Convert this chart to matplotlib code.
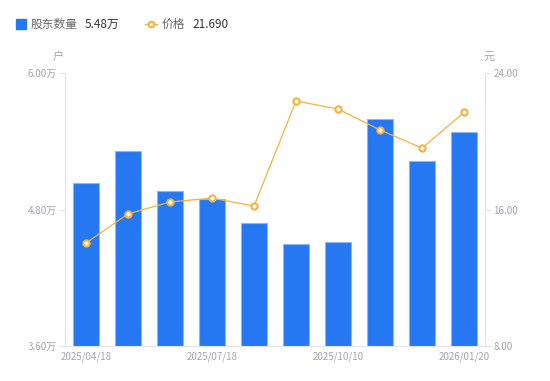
import matplotlib
matplotlib.use('Agg')
import matplotlib.pyplot as plt
from matplotlib.lines import Line2D
import numpy as np

plt.rcParams['font.family'] = ['Noto Sans CJK SC', 'DejaVu Sans']

dates = ['2025/04/18', '', '', '2025/07/18', '', '', '2025/10/10', '', '', '2026/01/20']
holders = [5.03, 5.31, 4.96, 4.89, 4.68, 4.50, 4.51, 5.60, 5.23, 5.48]   # 万户
price = [14.04, 15.74, 16.44, 16.67, 16.20, 22.36, 21.89, 20.66, 19.60, 21.69]

left_ticks = [3.6, 4.8, 6.0]
right_ticks = [8.0, 16.0, 24.0]

blue = '#2677F2'
orange = '#F7B23B'
grid_c = '#E3E3E8'
tick_c = '#A3A3B3'

fig = plt.figure(figsize=(5.5, 3.81), dpi=100)
ax = fig.add_axes([65/550, 35/381, 420/550, 273/381])
ax2 = ax.twinx()

x = np.arange(len(holders))
ax.bar(x, holders, width=0.6, color=blue, edgecolor='#8DB6F7', linewidth=0.8, zorder=2)
ax.set_xlim(-0.5, 9.5)
ax.set_ylim(3.6, 6.0)
ax.set_yticks(left_ticks)
ax.set_yticklabels(['%.2f万' % v for v in left_ticks])
ax.set_xticks([i for i, d in enumerate(dates) if d])
ax.set_xticklabels([d for d in dates if d])

ax2.plot(x, price, color=orange, linewidth=0.9, marker='o', markersize=4.5,
         markerfacecolor='white', markeredgecolor=orange, markeredgewidth=1.5, zorder=3)
ax2.set_ylim(8, 24)
ax2.set_yticks(right_ticks)
ax2.set_yticklabels(['%.2f' % v for v in right_ticks])

for a in (ax, ax2):
    for s in a.spines.values():
        s.set_visible(False)
    a.tick_params(colors=grid_c, labelcolor=tick_c, labelsize=7, length=4, width=0.8)
ax.spines['left'].set_visible(True)
ax.spines['left'].set_color(grid_c)
ax.spines['bottom'].set_visible(True)
ax.spines['bottom'].set_color(grid_c)
ax2.spines['right'].set_visible(True)
ax2.spines['right'].set_color(grid_c)
ax.tick_params(axis='x', length=0, pad=4)
ax.tick_params(axis='y', pad=2)
ax2.tick_params(axis='y', pad=2)

fig.text(58/550, 1 - 57/381, '户', fontsize=8, color=tick_c, ha='center', va='center')
fig.text(489/550, 1 - 57/381, '元', fontsize=8, color=tick_c, ha='center', va='center')

# legend
ly = 1 - 24/381
fig.add_artist(Line2D([21/550], [ly], marker='s', markersize=6.5, color=blue, transform=fig.transFigure))
fig.text(31/550, ly, '股东数量', fontsize=8.5, color='#666666', va='center')
fig.text(85/550, ly, '%.2f万' % holders[-1], fontsize=8.5, color='#333333', va='center')
fig.add_artist(Line2D([145/550, 157/550], [ly, ly], color=orange, linewidth=1, transform=fig.transFigure))
fig.add_artist(Line2D([151/550], [ly], marker='o', markersize=4, markerfacecolor='white',
                      markeredgecolor=orange, markeredgewidth=1.5, transform=fig.transFigure))
fig.text(162/550, ly, '价格', fontsize=8.5, color='#666666', va='center')
fig.text(192/550, ly, '%.3f' % price[-1], fontsize=8.5, color='#333333', va='center')

fig.savefig('out.png', dpi=100)
